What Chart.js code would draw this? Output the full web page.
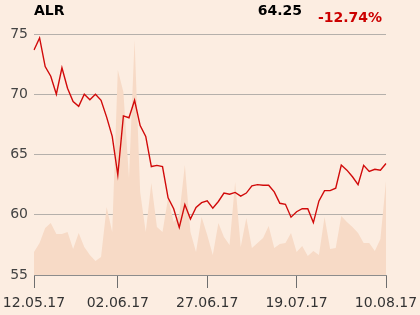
<!DOCTYPE html>
<html lang="en">
<head>
    <meta charset="UTF-8">
    <title>ALR</title>
    <script src="https://cdn.jsdelivr.net/npm/chart.js"></script>
    <style>
        body { margin: 0; background: #fcede1; font-family: "DejaVu Sans", sans-serif; }
        #wrap { position: relative; width: 420px; height: 315px; }
        .hdr { position: absolute; font-weight: bold; font-size: 14px; line-height: 14px; white-space: nowrap; }
        #sym { left: 34px; top: 3px; color: #000; }
        #last { right: 118px; top: 3px; color: #000; }
        #chg { right: 38px; top: 10px; color: #cc0000; }
    </style>
</head>
<body>
<div id="wrap">
    <canvas id="chart" width="420" height="315"></canvas>
    <div class="hdr" id="sym">ALR</div>
    <div class="hdr" id="last">64.25</div>
    <div class="hdr" id="chg">-12.74%</div>
</div>
<script>
    // trading days 12.05.17 - 10.08.17
    const dates = [
        '12.05.17','15.05.17','16.05.17','17.05.17','18.05.17','19.05.17','22.05.17','23.05.17','24.05.17','25.05.17',
        '26.05.17','29.05.17','30.05.17','31.05.17','01.06.17','02.06.17','05.06.17','06.06.17','07.06.17','08.06.17',
        '09.06.17','12.06.17','13.06.17','14.06.17','16.06.17','19.06.17','20.06.17','21.06.17','22.06.17','23.06.17',
        '26.06.17','27.06.17','28.06.17','29.06.17','30.06.17','03.07.17','04.07.17','05.07.17','06.07.17','07.07.17',
        '10.07.17','11.07.17','12.07.17','13.07.17','14.07.17','17.07.17','18.07.17','19.07.17','20.07.17','21.07.17',
        '24.07.17','25.07.17','26.07.17','27.07.17','28.07.17','31.07.17','01.08.17','02.08.17','03.08.17','04.08.17',
        '07.08.17','08.08.17','09.08.17','10.08.17'
    ];
    const prices = [
        73.67, 74.67, 72.3, 71.5, 70.0, 72.2, 70.5, 69.4, 69.0, 70.0,
        69.55, 70.0, 69.5, 68.1, 66.5, 63.3, 68.2, 68.05, 69.5, 67.4,
        66.5, 64.0, 64.1, 64.0, 61.4, 60.5, 58.95, 60.85, 59.65, 60.6,
        61.0, 61.15, 60.55, 61.1, 61.8, 61.7, 61.85, 61.55, 61.8, 62.4,
        62.5, 62.45, 62.45, 61.9, 60.95, 60.87, 59.8, 60.25, 60.5, 60.5,
        59.35, 61.15, 62.0, 62.0, 62.2, 64.13, 63.7, 63.15, 62.5, 64.1,
        63.6, 63.77, 63.7, 64.25
    ];
    // volume, thousands (relative)
    const volumes = [
        230, 320, 470, 520, 410, 410, 430, 260, 420, 280,
        200, 140, 180, 680, 430, 2050, 1830, 970, 2350, 830,
        430, 920, 480, 430, 770, 530, 600, 1100, 430, 230,
        580, 400, 200, 520, 380, 300, 930, 280, 570, 270,
        320, 370, 490, 270, 310, 320, 420, 230, 290, 190,
        240, 200, 580, 260, 270, 590, 530, 480, 420, 320,
        320, 240, 360, 940
    ];
    const tickLabels = ['12.05.17', '02.06.17', '27.06.17', '19.07.17', '10.08.17'];
    const yTicks = [55, 60, 65, 70, 75];

    const ctx = document.getElementById('chart').getContext('2d');
    new Chart(ctx, {
        type: 'line',
        data: {
            labels: dates,
            datasets: [
                {
                    data: prices, yAxisID: 'y', borderColor: '#d10a0a', borderWidth: 1.4,
                    pointRadius: 0, tension: 0, fill: false, order: 0
                },
                {
                    data: volumes, yAxisID: 'vol', borderWidth: 0, borderColor: 'transparent',
                    backgroundColor: '#f7dac6', pointRadius: 0, tension: 0, fill: 'origin', order: 1
                }
            ]
        },
        options: {
            responsive: false,
            animation: false,
            layout: { padding: { top: 34, right: 34, left: 0, bottom: 0 } },
            plugins: { legend: { display: false }, tooltip: { enabled: false } },
            scales: {
                x: {
                    offset: false,
                    border: { display: true, color: '#8c8c8c' },
                    grid: { drawOnChartArea: false, drawTicks: true, tickLength: 13, color: '#6e6e6e' },
                    ticks: {
                        autoSkip: false, maxRotation: 0, padding: 7, color: '#333',
                        font: { family: 'DejaVu Sans', size: 14 }
                    },
                    afterBuildTicks: s => {
                        s.ticks = s.ticks.filter(t => tickLabels.includes(dates[t.value]));
                    },
                    afterFit: s => {
                        s.height = 40;
                        s.paddingLeft = 0;
                        s.paddingRight = 0;
                    }
                },
                y: {
                    min: 55, max: 75,
                    border: { display: false },
                    grid: { drawTicks: false, color: '#b5b0ab', lineWidth: 1 },
                    ticks: {
                        padding: 6, color: '#444',
                        font: { family: 'DejaVu Sans', size: 14 }
                    },
                    afterBuildTicks: s => { s.ticks = yTicks.map(v => ({ value: v })); },
                    afterFit: s => { s.width = 34; }
                },
                vol: {
                    display: false, min: 0, max: 2410
                }
            }
        }
    });
</script>
</body>
</html>
